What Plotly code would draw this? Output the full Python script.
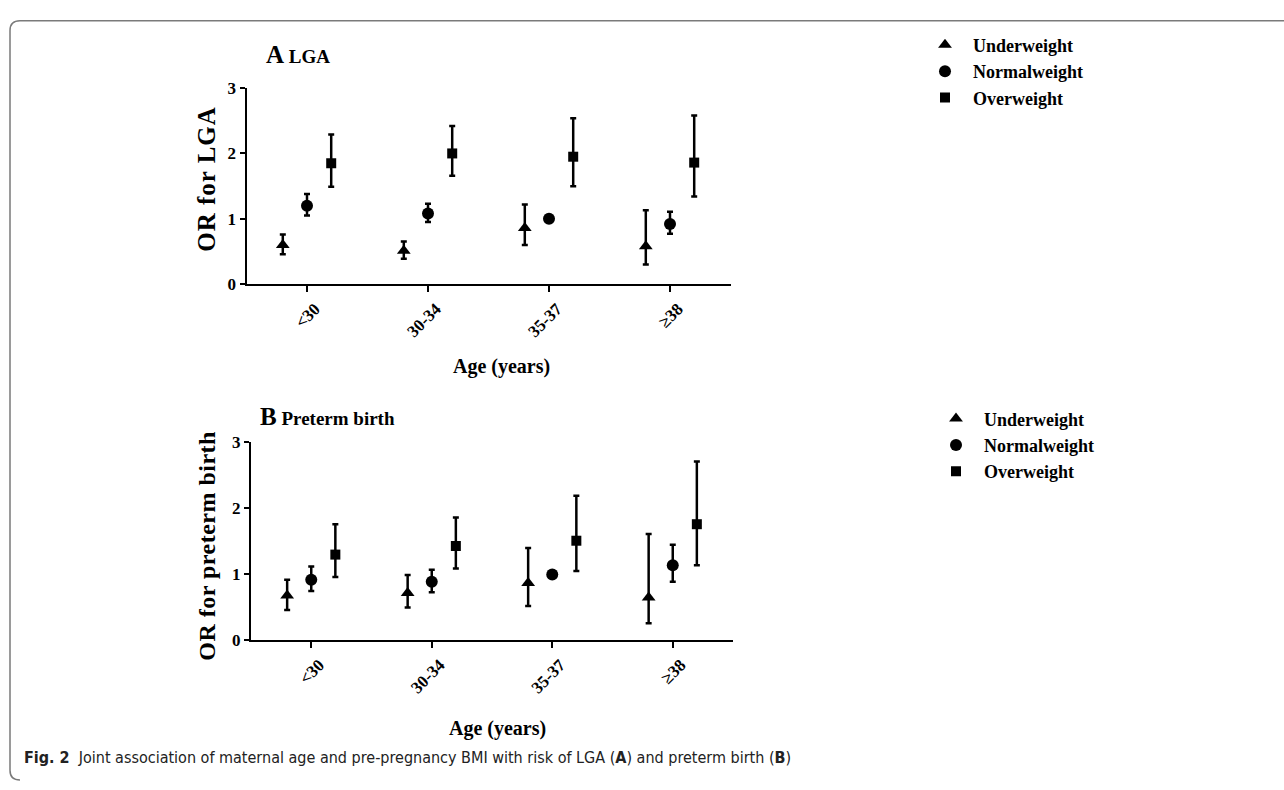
import plotly.graph_objects as go

W, H = 1284, 790

ages = ["<30", "30-34", "35-37", "≥38"]
groups = ["Underweight", "Normalweight", "Overweight"]

# Panel A: OR for LGA
lga_under = [0.60, 0.51, 0.86, 0.58]
lga_under_lo = [0.46, 0.39, 0.60, 0.30]
lga_under_hi = [0.76, 0.655, 1.22, 1.13]
lga_normal = [1.20, 1.08, 1.00, 0.92]
lga_normal_lo = [1.05, 0.95, None, 0.77]
lga_normal_hi = [1.38, 1.23, None, 1.11]
lga_over = [1.85, 2.00, 1.95, 1.86]
lga_over_lo = [1.49, 1.66, 1.50, 1.34]
lga_over_hi = [2.29, 2.42, 2.54, 2.58]

# Panel B: OR for preterm birth
pt_under = [0.68, 0.72, 0.87, 0.65]
pt_under_lo = [0.46, 0.50, 0.52, 0.26]
pt_under_hi = [0.92, 0.99, 1.40, 1.61]
pt_normal = [0.92, 0.89, 1.00, 1.14]
pt_normal_lo = [0.75, 0.73, None, 0.89]
pt_normal_hi = [1.12, 1.07, None, 1.45]
pt_over = [1.30, 1.43, 1.51, 1.76]
pt_over_lo = [0.96, 1.09, 1.05, 1.14]
pt_over_hi = [1.76, 1.86, 2.19, 2.71]

y_ticks = [0, 1, 2, 3]

SERIF = "Liberation Serif, Times New Roman, serif"


def px(x):
    return x / W


def py(y):
    return 1 - y / H


def err(vals, lo, hi):
    up = [None if h is None else h - v for v, h in zip(vals, hi)]
    dn = [None if l is None else v - l for v, l in zip(vals, lo)]
    return dict(type="data", symmetric=False, array=up, arrayminus=dn,
                color="black", thickness=2.5, width=3)


symbols = {"Underweight": ("triangle-up", 12), "Normalweight": ("circle", 12),
           "Overweight": ("square", 10)}
offsets = {"Underweight": -0.2, "Normalweight": 0.0, "Overweight": 0.2}

fig = go.Figure()

panels = [
    ("x", "y", "legend", {
        "Underweight": (lga_under, lga_under_lo, lga_under_hi),
        "Normalweight": (lga_normal, lga_normal_lo, lga_normal_hi),
        "Overweight": (lga_over, lga_over_lo, lga_over_hi)}),
    ("x2", "y2", "legend2", {
        "Underweight": (pt_under, pt_under_lo, pt_under_hi),
        "Normalweight": (pt_normal, pt_normal_lo, pt_normal_hi),
        "Overweight": (pt_over, pt_over_lo, pt_over_hi)}),
]

for xa, ya, lg, data in panels:
    for g in groups:
        vals, lo, hi = data[g]
        sym, sz = symbols[g]
        fig.add_trace(go.Scatter(
            x=[i + offsets[g] for i in range(len(ages))], y=vals,
            mode="markers", xaxis=xa, yaxis=ya, legend=lg, name=g,
            marker=dict(symbol=sym, size=sz, color="black"),
            error_y=err(vals, lo, hi), cliponaxis=False,
        ))

tickfont = dict(family=SERIF, size=17, color="black", weight="bold")
common_x = dict(range=[-0.5, 3.5], tickmode="array", tickvals=list(range(len(ages))),
                ticktext=ages, tickangle=-45, ticklabelshift=8, showline=True,
                linewidth=2, linecolor="black", ticks="outside", ticklen=6,
                tickwidth=2, tickcolor="black", showgrid=False, zeroline=False,
                tickfont=tickfont)
common_y = dict(range=[0, 3], tickmode="array", tickvals=y_ticks, showline=True,
                linewidth=2, linecolor="black", ticks="outside", ticklen=5,
                tickwidth=2, tickcolor="black", showgrid=False, zeroline=False,
                tickfont=tickfont)

legfont = dict(family=SERIF, size=18, color="black", weight="bold")
fig.update_layout(
    width=W, height=H,
    margin=dict(l=0, r=0, t=0, b=0),
    paper_bgcolor="white", plot_bgcolor="white",
    xaxis=dict(domain=[px(246.5), px(730.5)], anchor="y", **common_x),
    yaxis=dict(domain=[py(282), py(81)], anchor="x", **common_y),
    xaxis2=dict(domain=[px(251), px(733)], anchor="y2", **common_x),
    yaxis2=dict(domain=[py(647), py(444)], anchor="x2", **common_y),
    legend=dict(x=px(917), y=py(18), xanchor="left", yanchor="top",
                font=legfont, itemwidth=46,
                bgcolor="rgba(0,0,0,0)", tracegroupgap=0),
    legend2=dict(x=px(928), y=py(401), xanchor="left", yanchor="top",
                 font=legfont, itemwidth=46,
                 bgcolor="rgba(0,0,0,0)", tracegroupgap=0),
    showlegend=True,
)

ann = []
# panel titles
ann.append(dict(x=px(264), y=py(47), xanchor="left", yanchor="middle",
                text="<span style='font-size:25px'>A</span>"
                     "<span style='font-size:19px'> LGA</span>",
                font=dict(family=SERIF, color="black", weight="bold")))
ann.append(dict(x=px(258), y=py(418), xanchor="left", yanchor="middle",
                text="<span style='font-size:25px'>B</span>"
                     "<span style='font-size:19px'> Preterm birth</span>",
                font=dict(family=SERIF, color="black", weight="bold")))
# y axis titles
ann.append(dict(x=px(207), y=py(174), xanchor="center", yanchor="middle",
                text="<span style='letter-spacing:1px'>OR for LGA</span>", textangle=-90,
                font=dict(family=SERIF, size=25, color="black", weight="bold")))
ann.append(dict(x=px(207), y=py(550), xanchor="center", yanchor="middle",
                text="<span style='letter-spacing:0.5px'>OR for preterm birth</span>",
                textangle=-90,
                font=dict(family=SERIF, size=24, color="black", weight="bold")))
# x axis titles
ann.append(dict(x=px(501), y=py(366), xanchor="center", yanchor="middle",
                text="Age (years)",
                font=dict(family=SERIF, size=20, color="black", weight="bold")))
ann.append(dict(x=px(497), y=py(737), xanchor="center", yanchor="middle",
                text="Age (years)",
                font=dict(family=SERIF, size=20, color="black", weight="bold")))
# caption
ann.append(dict(x=px(22), y=py(767), xanchor="left", yanchor="middle",
                text="<b>Fig. 2</b>  Joint association of maternal age and pre-pregnancy BMI "
                     "with risk of LGA (<b>A</b>) and preterm birth (<b>B</b>)",
                font=dict(family="Liberation Sans Narrow, DejaVu Sans Condensed, Noto Sans, sans-serif",
                          size=16, color="#222222")))

for a in ann:
    a.update(xref="paper", yref="paper", showarrow=False)
fig.update_layout(annotations=ann)

# rounded frame (top and left edges)
path = (f"M {px(1284)},{py(12)} L {px(20)},{py(12)} "
        f"Q {px(10)},{py(12)} {px(10)},{py(22)} "
        f"L {px(10)},{py(780)} Q {px(10)},{py(790)} {px(20)},{py(790)}")
fig.add_shape(type="path", path=path, xref="paper", yref="paper",
              line=dict(color="#7a7a7a", width=1.5))

fig.write_html(
    "out.html",
    config={"displayModeBar": False},
    post_script=("document.body.style.margin='0';document.body.style.padding='0';"
                 "document.documentElement.style.overflow='hidden';"
                 "var d=document.getElementById('{plot_id}');"
                 "d.style.position='absolute';d.style.left='0px';d.style.top='0px';"),
)
